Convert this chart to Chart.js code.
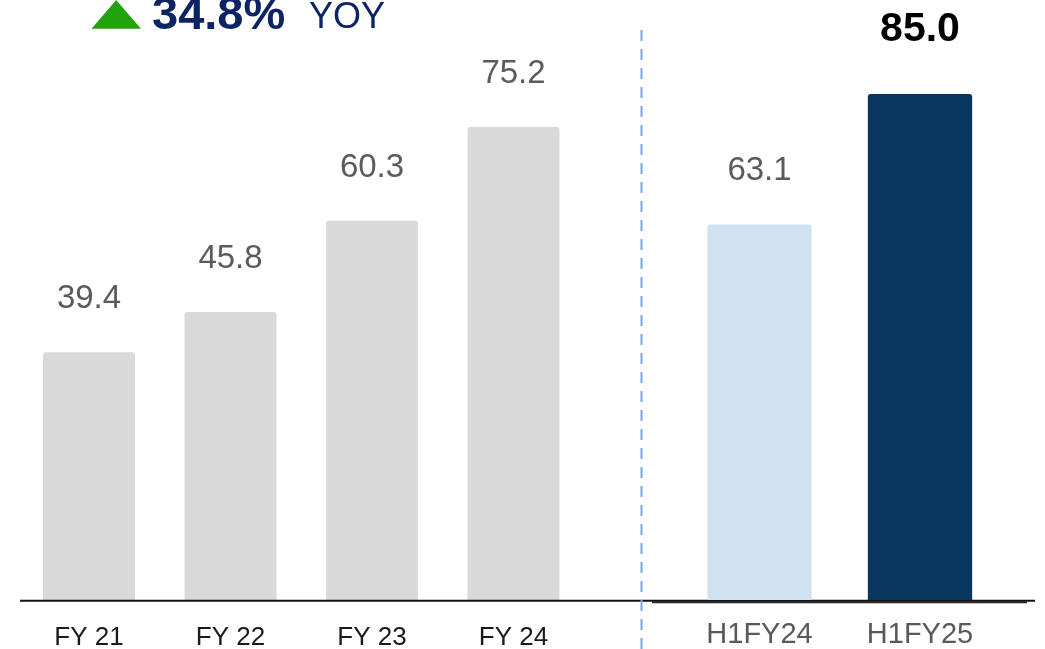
<!DOCTYPE html>
<html>
<head>
<meta charset="utf-8">
<script src="https://cdn.jsdelivr.net/npm/chart.js@4.4.1/dist/chart.umd.min.js"></script>
<style>
  html, body { margin:0; padding:0; background:#fff; }
  #wrap { position:relative; width:1045px; height:649px; overflow:hidden; background:#fff; font-family:"Liberation Sans", Arial, sans-serif; }
  canvas.full { position:absolute; left:0; top:0; }
  #deco { position:absolute; left:0; top:0; }
  .t { position:absolute; white-space:nowrap; line-height:1; color:#0c2463; font-family:"Liberation Sans", Arial, sans-serif; }
</style>
</head>
<body>
<div id="wrap">
  <canvas id="left" class="full" width="1045" height="649"></canvas>
  <canvas id="right" class="full" width="1045" height="649"></canvas>
  <svg id="deco" width="1045" height="649">
    <polygon points="91.5,28.8 141,28.8 116.2,0" fill="#22a30b"/>
    <line x1="641.5" y1="30" x2="641.5" y2="649" stroke="#7ba4f6" stroke-width="2" stroke-dasharray="11,8"/>
  </svg>
  <div class="t" style="left:152px; top:-11px; font-size:47px; font-weight:bold;">34.8%</div>
  <div class="t" style="left:309px; top:-2px; font-size:36px;">YOY</div>
</div>
<script>
// ---- data ----
const leftCategories = ['FY 21', 'FY 22', 'FY 23', 'FY 24'];
const leftValues = [39.4, 45.8, 60.3, 75.2];
const rightCategories = ['H1FY24', 'H1FY25'];
const rightValues = [63.1, 85.0];

const FONT = '"Liberation Sans", Arial, sans-serif';

// value labels above bars, drawn from the bar elements' positions
const valueLabels = {
  id: 'valueLabels',
  afterDatasetsDraw(chart, args, opts) {
    const ctx = chart.ctx;
    const meta = chart.getDatasetMeta(0);
    const data = chart.data.datasets[0].data;
    ctx.save();
    ctx.textAlign = 'center';
    ctx.textBaseline = 'alphabetic';
    meta.data.forEach((bar, i) => {
      const st = opts.styles[i];
      ctx.font = st.font;
      ctx.fillStyle = st.color;
      ctx.fillText(data[i].toFixed(1), bar.x, bar.y - st.gap);
    });
    ctx.restore();
  }
};

// baseline rules
const baseRule = {
  id: 'baseRule',
  afterDraw(chart, args, opts) {
    const ctx = chart.ctx;
    const y = chart.chartArea.bottom;
    ctx.save();
    opts.lines.forEach(l => {
      ctx.strokeStyle = l.color;
      ctx.lineWidth = l.width;
      ctx.beginPath();
      ctx.moveTo(l.x1, y + l.dy);
      ctx.lineTo(l.x2, y + l.dy);
      ctx.stroke();
    });
    ctx.restore();
  }
};

function makeChart(id, cats, vals, colors, cfg) {
  return new Chart(document.getElementById(id), {
    type: 'bar',
    data: {
      labels: cats,
      datasets: [{
        data: vals,
        backgroundColor: colors,
        borderWidth: 0,
        borderRadius: 3,
        borderSkipped: 'start',
        barPercentage: 0.65,
        categoryPercentage: 1.0
      }]
    },
    options: {
      responsive: false,
      animation: false,
      events: [],
      layout: { padding: { left: cfg.padL, right: cfg.padR, top: 0, bottom: 0 } },
      plugins: {
        legend: { display: false },
        tooltip: { enabled: false },
        valueLabels: { styles: cfg.labelStyles },
        baseRule: { lines: cfg.lines }
      },
      scales: {
        x: {
          grid: { display: false, drawTicks: false },
          border: { display: false },
          ticks: {
            color: cfg.tickColor,
            font: { family: FONT, size: cfg.tickSize },
            padding: cfg.tickPad,
            maxRotation: 0,
            autoSkip: false
          },
          afterFit(scale) { scale.height = 49; }
        },
        y: {
          display: false,
          min: 0,
          max: cfg.yMax
        }
      }
    },
    plugins: [valueLabels, baseRule]
  });
}

const grayLbl = { font: '33px ' + FONT, color: '#5b5b5b', gap: 44 };

makeChart('left', leftCategories, leftValues,
  ['#d9d9d9', '#d9d9d9', '#d9d9d9', '#d9d9d9'],
  {
    padL: 18.25, padR: 1045 - 584.25, yMax: 95.4,
    tickColor: '#1a1a1a', tickSize: 26, tickPad: 22,
    labelStyles: [grayLbl, grayLbl, grayLbl, grayLbl],
    lines: [{ x1: 20, x2: 1035, dy: 0.7, width: 2, color: '#111111' }]
  });

makeChart('right', rightCategories, rightValues,
  ['#d0e1f2', '#08365f'],
  {
    padL: 679.25, padR: 1045 - 1000.25, yMax: 100.8,
    tickColor: '#595959', tickSize: 29, tickPad: 17.5,
    labelStyles: [grayLbl, { font: 'bold 41px ' + FONT, color: '#000000', gap: 53 }],
    lines: [{ x1: 652, x2: 1027, dy: 2.3, width: 2, color: '#222222' }]
  });
</script>
</body>
</html>
